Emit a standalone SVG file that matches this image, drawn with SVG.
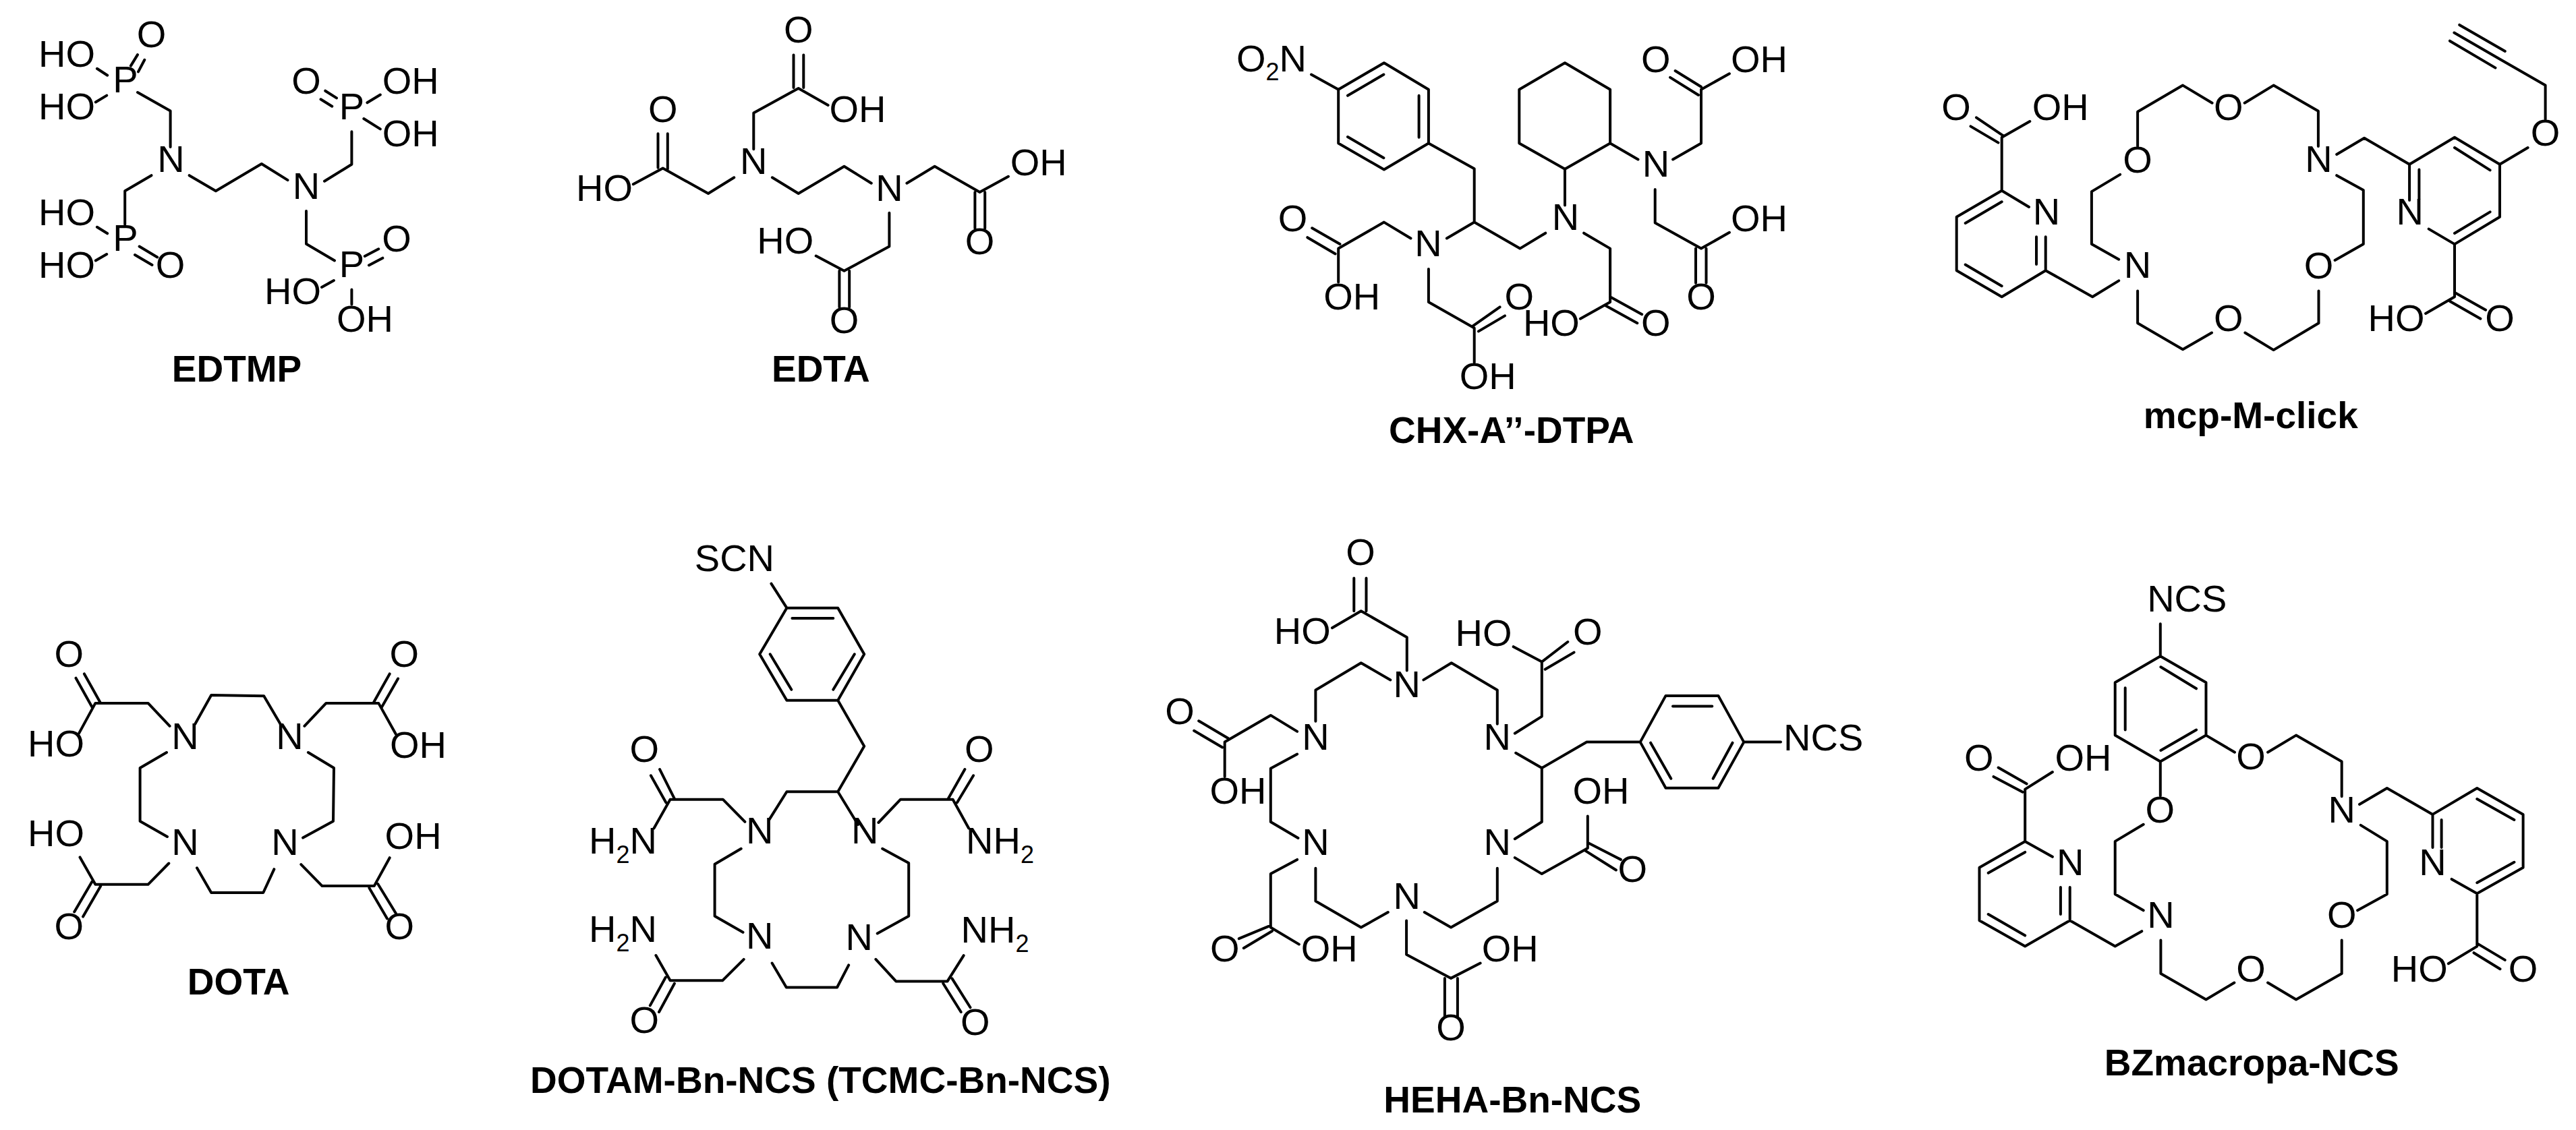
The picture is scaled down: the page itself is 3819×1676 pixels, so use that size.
<svg xmlns="http://www.w3.org/2000/svg" width="3819" height="1676" viewBox="0 0 3819 1676">
<style>
.b{fill:none;stroke:#000;stroke-width:4;stroke-linejoin:round;stroke-linecap:round}
text{font-family:"Liberation Sans",Arial,sans-serif;fill:#000}
.a{font-size:56px;text-anchor:middle}
.s{font-size:56px}
.u{font-size:36px}
.t{font-size:55px;font-weight:bold;text-anchor:middle}
</style>
<rect width="3819" height="1676" fill="#fff"/>
<g id="EDTMP">
<g id="EDTMP-bonds"><path class="b" d="M193.9 97.6L204 81.1M205 106.4L214.3 88.8M143.9 101.8L159.2 111.7M141.8 151.5L158.2 141.6M204 137L252.6 164.6V218M224.5 260.2L185.2 283.2V333M280.6 260.2L319.9 283.2L387.8 243L426.5 267.1M481 268.7L521.4 243.8V195.2M482.2 134.7L499 145.4M475.5 147.3L492.3 157.7M544.4 152.3L563.8 140.5M539.3 176L563.8 191.4M454 313V361.7L496 386.5M540.8 380L561.2 369.3M546.9 393.4L567.3 382.7M477 426L494.9 416M521.4 429.4V451.6M143.9 336.8L159.2 346.3M141.8 386.5L158.2 377M206.6 365.5L233.2 381.5M200 378L225.5 393"/></g>
<text class="a" x="224.5" y="70">O</text><text class="a" x="99" y="98.7">HO</text><text class="a" x="186" y="137">P</text><text class="a" x="99" y="176.8">HO</text><text class="a" x="253.6" y="254.5">N</text><text class="a" x="454" y="138.5">O</text><text class="a" x="608.7" y="138.5">OH</text><text class="a" x="521.4" y="176.8">P</text><text class="a" x="608.7" y="217.4">OH</text><text class="a" x="454" y="294.7">N</text><text class="a" x="99" y="333.7">HO</text><text class="a" x="186" y="372">P</text><text class="a" x="99" y="411.8">HO</text><text class="a" x="252.5" y="411.8">O</text><text class="a" x="588" y="373">O</text><text class="a" x="521.4" y="411.4">P</text><text class="a" x="434" y="450.8">HO</text><text class="a" x="541" y="491.8">OH</text>
<text class="t" x="351" y="565.6">EDTMP</text>
</g>
<g id="EDTA">
<g id="EDTA-bonds"><path class="b" d="M1176.5 81.5V130M1191.3 81.5V130M1117.3 221.2V167.6L1183.7 130.9L1227.6 156.1M1088.3 263.3L1050 287L982.7 249.5L938.8 273.2M975.5 198.2V248.8M989.8 198.2V250.7M1144.9 263.3L1183.7 287L1251.5 246.8L1291.8 271.7M1344.4 271.7L1385.7 246.8L1452.5 285.1L1494.9 261.8M1445.4 285.1V338.7M1460.2 285.1V338.7M1318.4 315.7V365.5L1251.5 401.8L1209.7 379.6M1244.4 401.8V455.4M1259.2 401.8V455.4"/></g>
<text class="a" x="1183.7" y="63">O</text><text class="a" x="1271.4" y="181">OH</text><text class="a" x="982.7" y="181">O</text><text class="a" x="1117.3" y="258.3">N</text><text class="a" x="1539.8" y="259.5">OH</text><text class="a" x="896" y="297.7">HO</text><text class="a" x="1318.4" y="297.7">N</text><text class="a" x="1164.3" y="375.8">HO</text><text class="a" x="1452.5" y="377">O</text><text class="a" x="1251.5" y="494.4">O</text>
<text class="t" x="1216.8" y="565.6">EDTA</text>
</g>
<g id="CHX-A-DTPA">
<g id="CHX-bonds"><path class="b" d="M1944 110.6L1984.2 132.7M2051.9 93.2L2117.9 132.7V212.5L2051.9 251.5L1984.2 212.5V132.7ZM1998 141.8L2051.4 110.6M2103.6 141.8V203.8M1998 203L2051.4 234.2M2117.9 212.5L2185.7 250.2V329.6L2253.4 368.6L2291.3 345.7M2185.7 329.6L2144.9 353.5M2091.5 353.5L2051.9 329.6L1984.2 368.6V418.5M1945.2 338.3L1986.5 362.1M1938.3 352.2L1979.6 376.5M2117.9 399V448L2185.7 486.6V537.8M2183.4 483.6L2223.6 455.4M2192 491.4L2231 468.4M2320 93.2L2387.1 132.7V212.5L2320 250.7L2252.3 212.5V132.7ZM2320 250.7V304.5M2387.1 212.5L2428.5 236.4M2480.1 236.4L2522 212.5V132.7L2563.9 109.3M2522 128.8L2483.6 105M2518 141L2476.1 114.9M2453.7 281V330.5L2522 368.6L2563.9 344.8M2514 368.6V419.8M2529.5 368.6V419.8M2348.1 345.7L2387.1 368.6V448L2342.9 472.7M2387.1 440.2L2434.2 466.2M2380.3 453.2L2427.3 479.2"/></g>
<text class="s" x="1833" y="106.3">O<tspan class="u" dy="13">2</tspan><tspan dy="-13">N</tspan></text><text class="a" x="2454.9" y="107">O</text><text class="a" x="2608" y="107">OH</text><text class="a" x="2454.9" y="261.5">N</text><text class="a" x="1916.5" y="342.6">O</text><text class="a" x="2608" y="342.6">OH</text><text class="a" x="2321" y="340.5">N</text><text class="a" x="2117.4" y="379.5">N</text><text class="a" x="2004.3" y="458.9">OH</text><text class="a" x="2252.3" y="458.9">O</text><text class="a" x="2522" y="458.9">O</text><text class="a" x="2299.9" y="497.5">HO</text><text class="a" x="2454.9" y="497.9">O</text><text class="a" x="2205.8" y="576.8">OH</text>
<text class="t" x="2240.8" y="657">CHX-A’’-DTPA</text>
</g>
<g id="mcp-M-click">
<g id="mcp-bonds"><path class="b" d="M3008 307L2967.7 282.8L2900.7 321.8V401.2L2967.7 440.2L3032.7 401.2V351.3M3019 351.3V392M2913.7 330.9L2967.7 299.3M2913.7 392.5L2967.7 424.2M2967.7 282.8V203.8L3009.3 180M2970.3 201.7L2930 174.3M2962.5 211.6L2921.5 187.4M3032.7 401.2L3102.2 440.2L3141.2 416.4M3141.2 384.7L3100.9 362.1V284.1L3143.1 258.9M3169.1 216.9V165.7L3236.1 126.6L3279.6 152.7M3327.7 152.7L3370.6 126.6L3436.9 164.8V216.9M3464.2 229L3505.1 204.7L3572.1 243.7M3464.2 260.2L3503.8 281.9V362.1L3461.6 386M3437.5 431.5V479.2L3370.6 519.1L3328.4 493.5M3279 493.5L3236.1 518.3L3169.1 479.2V431.5M3572.1 297.1V243.7L3639 203.8L3706 243.7V321.8L3639 362.1L3600.7 339.6M3586.4 251.5V294.9M3639 219L3691.6 252.4M3639 346L3691.6 314.4M3706 243.7L3747.6 219M3773.6 177V126.6L3706.6 88L3638.4 48.6M3713.8 75.9L3646.2 36.9M3699.5 100.6L3631.9 60.7M3639 362.1V440.2L3596.1 464.9M3639 433.7L3685.1 459.7M3631.9 446.7L3677.4 472.7"/></g>
<text class="a" x="2900.1" y="177.8">O</text><text class="a" x="3054.8" y="177.8">OH</text><text class="a" x="3303.7" y="177.8">O</text><text class="a" x="3773.6" y="216">O</text><text class="a" x="3169.1" y="255.9">O</text><text class="a" x="3437.5" y="255">N</text><text class="a" x="3034" y="333">N</text><text class="a" x="3572.7" y="333">N</text><text class="a" x="3169.1" y="412">N</text><text class="a" x="3437.5" y="412.9">O</text><text class="a" x="3552.6" y="491">HO</text><text class="a" x="3706" y="491">O</text><text class="a" x="3303.7" y="491">O</text>
<text class="t" x="3336.8" y="635.4">mcp-M-click</text>
</g>
<g id="DOTA">
<g id="DOTA-bonds"><path class="b" d="M289.3 1073.7L313.2 1031L391.2 1032.2L415.6 1073.7M251.6 1076.9L219.5 1042.9H141.4L117.1 1087.6M124.9 999.4L149.2 1042.9M112.5 1005.7L136.8 1049.2M451.4 1076.9L483.5 1042.9H561.2L586.8 1088.8M577.7 999.4L553.3 1042.9M590.1 1006.5L565.7 1049.2M247 1116L207.6 1139V1218L248 1241M456.9 1116L495 1139L494 1218L449.1 1242.6M292 1287.3L313.2 1324H390.3L406.4 1289.2M250.3 1280.5L219.5 1311.8H141.4L118.5 1271.4M136.8 1307L110.2 1352.5M149.2 1314.2L123.1 1359.6M446.3 1282.1L477.6 1314.1H554.7L577.7 1272.2M547.4 1316.9L574 1362.4M560.2 1311L586.8 1354.5"/></g>
<text class="a" x="102.4" y="988.7">O</text><text class="a" x="599.3" y="988.7">O</text><text class="a" x="83.1" y="1122">HO</text><text class="a" x="274.6" y="1111.3">N</text><text class="a" x="429.4" y="1111.3">N</text><text class="a" x="619.9" y="1124.4">OH</text><text class="a" x="83.1" y="1254.8">HO</text><text class="a" x="274.6" y="1267.5">N</text><text class="a" x="422.5" y="1268.3">N</text><text class="a" x="612.6" y="1258.8">OH</text><text class="a" x="102.4" y="1392.8">O</text><text class="a" x="592.4" y="1392.8">O</text>
<text class="t" x="353.6" y="1475">DOTA</text>
</g>
<g id="DOTAM-Bn-NCS">
<g id="DOTAM-bonds"><path class="b" d="M1143.4 865.7L1166.4 901.7H1242.2L1281.2 970.3L1242.2 1038.8H1166.4L1126.2 970.3L1166.4 901.7M1174.4 917.1H1235.3M1266.8 970.3L1235.3 1022.8M1141.7 970.3L1173.3 1022.8M1242.2 1038.8L1281.2 1106.8L1242.2 1174.3H1166.4L1140.6 1215.4M1242.2 1174.3L1272 1223M1104.4 1218.8L1071.7 1185.7H993.6L969.5 1228.5M978.1 1141.1L999.9 1184.6M964.9 1150.3L987.3 1190.3M1302.4 1220L1335.1 1185.7H1412.6L1436.2 1228.5M1430.4 1141.1L1405.8 1184.6M1443.1 1150.3L1419 1190.3M1098.7 1258.8L1059.6 1281.7V1358.8L1101.5 1382.8M1308.2 1258.8L1347.2 1280V1358.8L1300.7 1384.5M1144.6 1428.5L1165.8 1464.5H1241L1258.2 1431.4M1102.7 1422.8L1071.1 1454.3H993.6L972.4 1417.1M986.7 1449.7L963.8 1491.4M999.9 1458.8L977 1501M1298.4 1422.8L1328.3 1455.4H1404.6L1428.7 1417.1M1398.3 1458.8L1424.7 1501M1411.5 1451.4L1438.5 1494.3"/></g>
<text class="a" x="1088.9" y="847.4">SCN</text><text class="a" x="955.2" y="1129.7">O</text><text class="a" x="1451.7" y="1129.7">O</text><text class="s" x="873" y="1265.7">H<tspan class="u" dy="14">2</tspan><tspan dy="-14">N</tspan></text><text class="a" x="1126.2" y="1251.4">N</text><text class="a" x="1282.3" y="1251.4">N</text><text class="s" x="1432" y="1265.7">NH<tspan class="u" dy="14">2</tspan></text><text class="s" x="873" y="1397.1">H<tspan class="u" dy="14">2</tspan><tspan dy="-14">N</tspan></text><text class="a" x="1126.2" y="1407.4">N</text><text class="a" x="1273.7" y="1408.5">N</text><text class="s" x="1424.5" y="1398.3">NH<tspan class="u" dy="14">2</tspan></text><text class="a" x="955.2" y="1532">O</text><text class="a" x="1445.9" y="1535.4">O</text>
<text class="t" x="1216.3" y="1621">DOTAM-Bn-NCS (TCMC-Bn-NCS)</text>
</g>
<g id="HEHA-Bn-NCS">
<g id="HEHA-bonds"><path class="b" d="M2085.8 994.4V945.3L2017.8 906.2L1975 931.3M2007.3 857.5V906.2M2025.5 857.5V906.2M2061.3 1008.4L2017.8 983.3L1950.4 1023.5V1069.8M2110.4 1008.4L2151.8 983.3L2219.8 1023.5V1073.8M2245.8 1087.7L2285.8 1062.6V981.6L2243.7 959.2M2285.8 981.6L2324.3 952M2290.7 992.8L2333.5 967.6M2247.2 1116.8L2285.8 1139.1L2352.4 1100.6H2431.7L2469.5 1031.9H2547.4L2585.3 1100.6L2547.4 1168.7H2469.5L2431.7 1100.6M2480 1047.5H2538.3M2447.1 1101.7L2477.3 1154.8M2568.5 1101.7L2539.7 1154.8M2585.3 1100.6H2640M2285.8 1139.1V1219L2245.8 1244.2M2245.8 1272.1L2285.8 1296.1L2353.8 1258.1V1210.6M2353.8 1249.8L2402.9 1274.9M2348.9 1260.9L2395.9 1290.5M2219.8 1287.7V1336.4L2151.1 1375.5L2111.8 1353.1M2057.8 1353.1L2017.8 1375.5L1950.4 1336.4V1287.7M2085.1 1365.4V1415.7L2151.1 1450.9L2194.6 1428.5M2141.9 1450.9V1508.4M2160.9 1450.9V1508.4M1923.1 1084.9L1883.8 1060.9L1815.7 1100.6V1152M1777.2 1069.3L1820.7 1095M1770.2 1083.8L1812.2 1108.4M1923.1 1118.5L1883.8 1139.7V1219L1924.5 1243M1923.1 1274.9L1883.8 1296.1V1375.5L1925.9 1400.6M1883.8 1372.7L1836.8 1392.2M1885.9 1381L1843.8 1406.2"/></g>
<text class="a" x="2017.1" y="838">O</text><text class="a" x="1930.8" y="954.8">HO</text><text class="a" x="2199.5" y="957.6">HO</text><text class="a" x="2353.8" y="956.4">O</text><text class="a" x="2085.8" y="1033.5">N</text><text class="a" x="1749.1" y="1073.8">O</text><text class="a" x="2219.8" y="1111.8">N</text><text class="a" x="1950.4" y="1111.8">N</text><text class="a" x="2703.2" y="1112.9">NCS</text><text class="a" x="1835.4" y="1192.2">OH</text><text class="a" x="2373.4" y="1192.2">OH</text><text class="a" x="1950.4" y="1268.2">N</text><text class="a" x="2219.8" y="1268.2">N</text><text class="a" x="2420.4" y="1308.4">O</text><text class="a" x="2085.8" y="1347.5">N</text><text class="a" x="1815.7" y="1425.7">O</text><text class="a" x="1970.8" y="1425.7">OH</text><text class="a" x="2238.8" y="1425.7">OH</text><text class="a" x="2151.1" y="1543">O</text>
<text class="t" x="2242.3" y="1650.3">HEHA-Bn-NCS</text>
</g>
<g id="BZmacropa-NCS">
<g id="BZ-bonds"><path class="b" d="M3202.8 925.3V973.3L3270.5 1012.2V1090.6L3202.8 1129.5L3135.7 1090.6V1012.2L3202.8 973.3M3203.4 989.3L3256.1 1021.3M3150.7 1020.2V1082.6M3203.4 1113L3256.1 1082.6M3202.8 1129.5V1180.2M3270.5 1090.6L3313 1115.7M3362.1 1115.7L3404 1090.6L3471.7 1129.5V1181.2M3498 1193L3538.8 1169L3606.5 1207.9M3499.8 1223.9L3538.8 1247.9V1326.3L3495.1 1350.3M3471.7 1394.5V1444.1L3404 1482.5L3362.1 1457.5M3312.4 1457.5L3270.5 1482.5L3203.4 1444.1V1394.5M3177.7 1222.8L3135.7 1247.9V1326.3L3177.7 1350.3M3175.3 1381.2L3135.7 1403.6L3068.7 1365.2L3002.2 1403.6L2934.5 1365.2V1286.8L3002.2 1247.9L3042.9 1270.8M3068.7 1365.2V1316.1M3054.9 1316.1V1356.1M2947.7 1356.1L3002.2 1387.6M2947.7 1294.8L3002.2 1263.9M3002.2 1247.9V1170.6L3042.9 1145M3004.6 1162.6L2962.6 1138.6M2998.6 1174.8L2955.5 1151.9M3606.5 1257V1207.9L3672.3 1169L3740.6 1207.9V1286.8L3672.3 1325.2L3634.6 1303.9M3619.6 1215.9V1257M3672.3 1185L3727.4 1215.9M3672.3 1309.2L3727.4 1278.8M3672.3 1325.2V1403.6L3629.8 1429.2M3673.5 1399.9L3713.7 1423.9M3667.5 1413.2L3706.5 1437.2"/></g>
<text class="a" x="3242.3" y="906.7">NCS</text><text class="a" x="2933.9" y="1142.9">O</text><text class="a" x="3088.4" y="1142.9">OH</text><text class="a" x="3337" y="1141.3">O</text><text class="a" x="3202.2" y="1219.6">O</text><text class="a" x="3471.7" y="1219.6">N</text><text class="a" x="3069.3" y="1297.5">N</text><text class="a" x="3606.5" y="1297.5">N</text><text class="a" x="3471.7" y="1375.9">O</text><text class="a" x="3203.4" y="1375.9">N</text><text class="a" x="3586.7" y="1455.8">HO</text><text class="a" x="3740.6" y="1455.8">O</text><text class="a" x="3337" y="1455.8">O</text>
<text class="t" x="3338.2" y="1594.5">BZmacropa-NCS</text>
</g>
</svg>
